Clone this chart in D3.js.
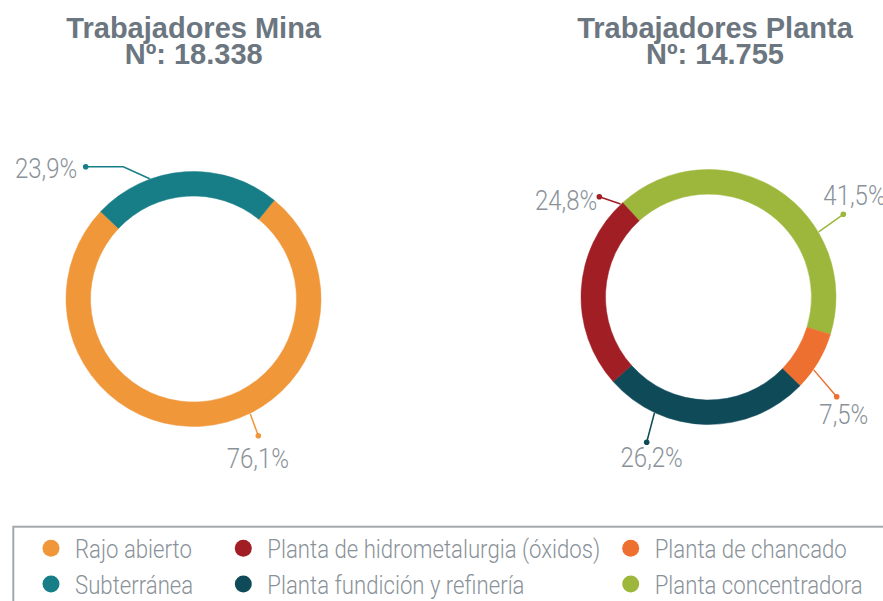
<!DOCTYPE html>
<html>
<head>
<meta charset="utf-8">
<script src="https://cdn.jsdelivr.net/npm/d3@7"></script>
<style>
  body { margin: 0; background: #fff; }
  svg { display: block; }
</style>
</head>
<body>
<svg id="chart" width="883" height="601"></svg>
<script>
// data
var minaCats = ['Rajo abierto', 'Subterránea'];
var minaValues = [76.1, 23.9];
var minaTotal = '18.338';

// clockwise order as drawn
var plantaCats = ['Planta concentradora', 'Planta de chancado', 'Planta fundición y refinería', 'Planta de hidrometalurgia (óxidos)'];
var plantaValues = [41.5, 7.5, 26.2, 24.8];
var plantaTotal = '14.755';

var legendCats = ['Rajo abierto', 'Planta de hidrometalurgia (óxidos)', 'Planta de chancado',
                  'Subterránea', 'Planta fundición y refinería', 'Planta concentradora'];

var colors = {
  'Rajo abierto': '#F0973A',
  'Subterránea': '#177E87',
  'Planta de hidrometalurgia (óxidos)': '#A11E25',
  'Planta fundición y refinería': '#0F4A59',
  'Planta de chancado': '#EE7030',
  'Planta concentradora': '#9CB73B'
};

var fmtPct = function(v) { return d3.format('.1f')(v).replace('.', ',') + '%'; };

var svg = d3.select('#chart');
var titleColor = '#6B7680';
var labelColor = '#8A9299';
var rOuter = 127.5, rInner = 103;

// leader layout: angle on ring (deg), optional elbow, dot, text pos
var minaLayout = {
  cx: 193.5, cy: 299, titleX: 193.7, start: 39.3,
  leaders: {
    'Rajo abierto': { a: 153.7, dot: [258.3, 435.7], tx: 226.7, ty: 468, anchor: 'start' },
    'Subterránea': { a: -20, elbow: [123.3, 166.7], dot: [85.7, 166.7], tx: 77.3, ty: 178.3, anchor: 'end' }
  }
};
var plantaLayout = {
  cx: 708.5, cy: 297, titleX: 715, start: -42.3,
  leaders: {
    'Planta concentradora': { a: 59.4, dot: [843.3, 214.3], tx: 823.3, ty: 205, anchor: 'start' },
    'Planta de chancado': { a: 124.7, dot: [836.7, 396.7], tx: 819.3, ty: 424, anchor: 'start' },
    'Planta fundición y refinería': { a: 205, dot: [646.7, 442.3], tx: 620.5, ty: 467, anchor: 'start' },
    'Planta de hidrometalurgia (óxidos)': { a: -43.4, dot: [599.3, 196.7], tx: 597.3, ty: 210, anchor: 'end' }
  }
};

var rad = Math.PI / 180;

// condensed look: squeeze text to a fixed fraction of its natural width
var condense = function(sel, k) {
  sel.each(function() {
    var w = this.getComputedTextLength();
    d3.select(this).attr('textLength', w * k).attr('lengthAdjust', 'spacingAndGlyphs');
  });
};

var drawDonut = function(title, total, cats, values, layout) {
  var items = cats.map(function(c, i) { return { cat: c, value: values[i] }; });

  // two-line title in one text element
  var t = svg.append('text')
      .attr('text-anchor', 'middle')
      .style('font', 'bold 29px "Liberation Sans", Arial, sans-serif')
      .style('fill', titleColor);
  t.append('tspan')
      .attr('x', layout.titleX).attr('y', 38.3)
      .text(title);
  t.append('tspan')
      .attr('x', layout.titleX).attr('y', 64.3)
      .text('Nº: ' + total);

  var pie = d3.pie()
      .sort(null)
      .value(function(d) { return d.value; })
      .startAngle(layout.start * rad)
      .endAngle(layout.start * rad + 2 * Math.PI);

  var arc = d3.arc().innerRadius(rInner).outerRadius(rOuter);

  var g = svg.append('g')
      .attr('transform', 'translate(' + layout.cx + ',' + layout.cy + ')');

  g.selectAll('path.slice')
      .data(pie(items))
      .enter().append('path')
      .attr('class', 'slice')
      .attr('d', arc)
      .attr('fill', function(d) { return colors[d.data.cat]; })
      .attr('stroke', function(d) { return colors[d.data.cat]; })
      .attr('stroke-width', 0.5);

  // leaders + labels
  items.forEach(function(d) {
    var L = layout.leaders[d.cat];
    var ax = layout.cx + (rOuter + 0.5) * Math.sin(L.a * rad);
    var ay = layout.cy - (rOuter + 0.5) * Math.cos(L.a * rad);
    var pts = [[ax, ay]];
    if (L.elbow) pts.push(L.elbow);
    pts.push(L.dot);

    svg.append('path')
        .attr('d', d3.line()(pts))
        .attr('fill', 'none')
        .attr('stroke', colors[d.cat])
        .attr('stroke-width', 1.5);
    svg.append('circle')
        .attr('cx', L.dot[0]).attr('cy', L.dot[1])
        .attr('r', 2.8)
        .attr('fill', colors[d.cat]);

    svg.append('text')
        .attr('x', L.tx).attr('y', L.ty)
        .attr('text-anchor', L.anchor)
        .style('font', '300 27px Roboto, sans-serif')
        .style('fill', labelColor)
        .text(fmtPct(d.value))
        .call(condense, 0.89);
  });
};

drawDonut('Trabajadores Mina', minaTotal, minaCats, minaValues, minaLayout);
drawDonut('Trabajadores Planta', plantaTotal, plantaCats, plantaValues, plantaLayout);

// legend
var legendColX = [51, 243.3, 630.7];
var legendRowY = [548.3, 584];

svg.append('rect')
    .attr('x', 13.3).attr('y', 526.7)
    .attr('width', 900).attr('height', 120)
    .attr('fill', 'none')
    .attr('stroke', '#A3A8AD')
    .attr('stroke-width', 2);

var legend = svg.selectAll('g.legend-item')
    .data(legendCats)
    .enter().append('g')
    .attr('class', 'legend-item')
    .attr('transform', function(d, i) {
      return 'translate(' + legendColX[i % 3] + ',' + legendRowY[Math.floor(i / 3)] + ')';
    });

legend.append('circle')
    .attr('r', 8.5)
    .attr('fill', function(d) { return colors[d]; });

legend.append('text')
    .attr('x', 24).attr('y', 10)
    .style('font', '300 25px Roboto, sans-serif')
    .style('fill', labelColor)
    .text(function(d) { return d; })
    .call(condense, 0.887);
</script>
</body>
</html>
